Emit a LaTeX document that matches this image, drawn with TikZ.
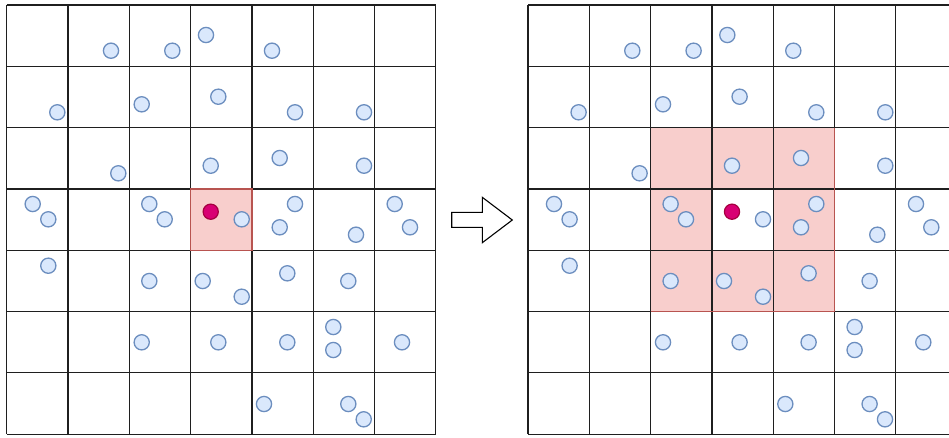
\documentclass[tikz,border=0pt]{standalone}
\usetikzlibrary{calc}
\definecolor{ptfill}{HTML}{DAE8FC}
\definecolor{ptline}{HTML}{6C8EBF}
\definecolor{pinkfill}{HTML}{F8CECC}
\definecolor{pinkline}{HTML}{B85450}
\definecolor{qfill}{HTML}{D80073}
\definecolor{qline}{HTML}{A50040}
\tikzset{
  gridline/.style={line width=1.2pt, draw=black!88},
  pt/.style={circle, draw=ptline, fill=ptfill, line width=1.3pt, minimum size=15.2pt, inner sep=0pt},
  qpt/.style={circle, draw=qline, fill=qfill, line width=1.2pt, minimum size=15.2pt, inner sep=0pt},
  pinkcell/.style={fill=pinkfill, draw=pinkline, line width=1.2pt},
  pinkfillonly/.style={fill=pinkfill},
  arrowshape/.style={draw=black, fill=white, line width=1.1pt, line join=miter}
}
\newcommand{\cellw}{61.3}
\begin{document}
\begin{tikzpicture}[x=1pt,y=-1pt]
\useasboundingbox (0,0) rectangle (949,437);
\clip (0,0) rectangle (949,437);
\fill[white] (0,0) rectangle (949,437);
% ---------- left grid ----------
\def\lx{6.7}\def\ly{5}
\draw[pinkcell] (\lx+3*\cellw,\ly+3*\cellw) rectangle (\lx+4*\cellw,\ly+4*\cellw);
\foreach \k in {0,...,7}{
  \draw[gridline] (\lx+\k*\cellw,\ly) -- (\lx+\k*\cellw,\ly+7*\cellw);
  \draw[gridline] (\lx,\ly+\k*\cellw) -- (\lx+7*\cellw,\ly+\k*\cellw);
}
\draw[pinkcell, fill=none] (\lx+3*\cellw,\ly+3*\cellw) rectangle (\lx+4*\cellw,\ly+4*\cellw);
% ---------- right grid ----------
\def\rx{528}
\foreach \i/\j in {2/2,3/2,4/2,2/3,4/3,2/4,3/4,4/4}{
  \fill[pinkfillonly] (\rx+\i*\cellw,\ly+\j*\cellw) rectangle (\rx+\i*\cellw+\cellw,\ly+\j*\cellw+\cellw);
}
\foreach \k in {0,...,7}{
  \draw[gridline] (\rx+\k*\cellw,\ly) -- (\rx+\k*\cellw,\ly+7*\cellw);
  \draw[gridline] (\rx,\ly+\k*\cellw) -- (\rx+7*\cellw,\ly+\k*\cellw);
}
\draw[line width=1.2pt, draw=pinkline] (\rx+5*\cellw,\ly+2*\cellw) -- (\rx+5*\cellw,\ly+5*\cellw) -- (\rx+2*\cellw,\ly+5*\cellw);
% ---------- points ----------
\foreach \n/\x/\y in {
 1/111/50.7, 2/172.3/50.7, 3/206/35, 4/272/50.7,
 5/57.3/112.3, 6/141.7/104.3, 7/218.3/96.7, 8/295/112.3, 9/364/112.3,
 10/118.3/173.3, 11/210.7/165.7, 12/279.7/158, 13/364/165.7,
 14/32.7/204, 15/48.3/219.3, 16/149.3/204, 17/164.7/219.3, 18/241.7/219.3,
 19/295/204, 20/279.7/227.3, 21/356/234.7, 22/394.7/204, 23/410/227.3,
 24/48.3/265.7, 25/149.3/281, 26/202.7/281, 27/241.7/296.7, 28/287.3/273.3, 29/348.3/281,
 30/141.7/342.3, 31/218.3/342.3, 32/287.3/342.3, 33/333.3/327, 34/333.3/350, 35/402/342.3,
 36/264/404, 37/348.3/404, 38/363.7/419.3}{
  \node[pt] (L\n) at (\x,\y) {};
  \node[pt] (R\n) at (\x+521.3,\y) {};
}
\node[qpt] (Lq) at (210.7,211.7) {};
\node[qpt] (Rq) at (732,211.7) {};
% ---------- arrow ----------
\draw[arrowshape] (451.7,212.3) -- (482.3,212.3) -- (482.3,197.3) -- (512.3,220)
  -- (482.3,242.7) -- (482.3,227.3) -- (451.7,227.3) -- cycle;
\end{tikzpicture}
\end{document}
